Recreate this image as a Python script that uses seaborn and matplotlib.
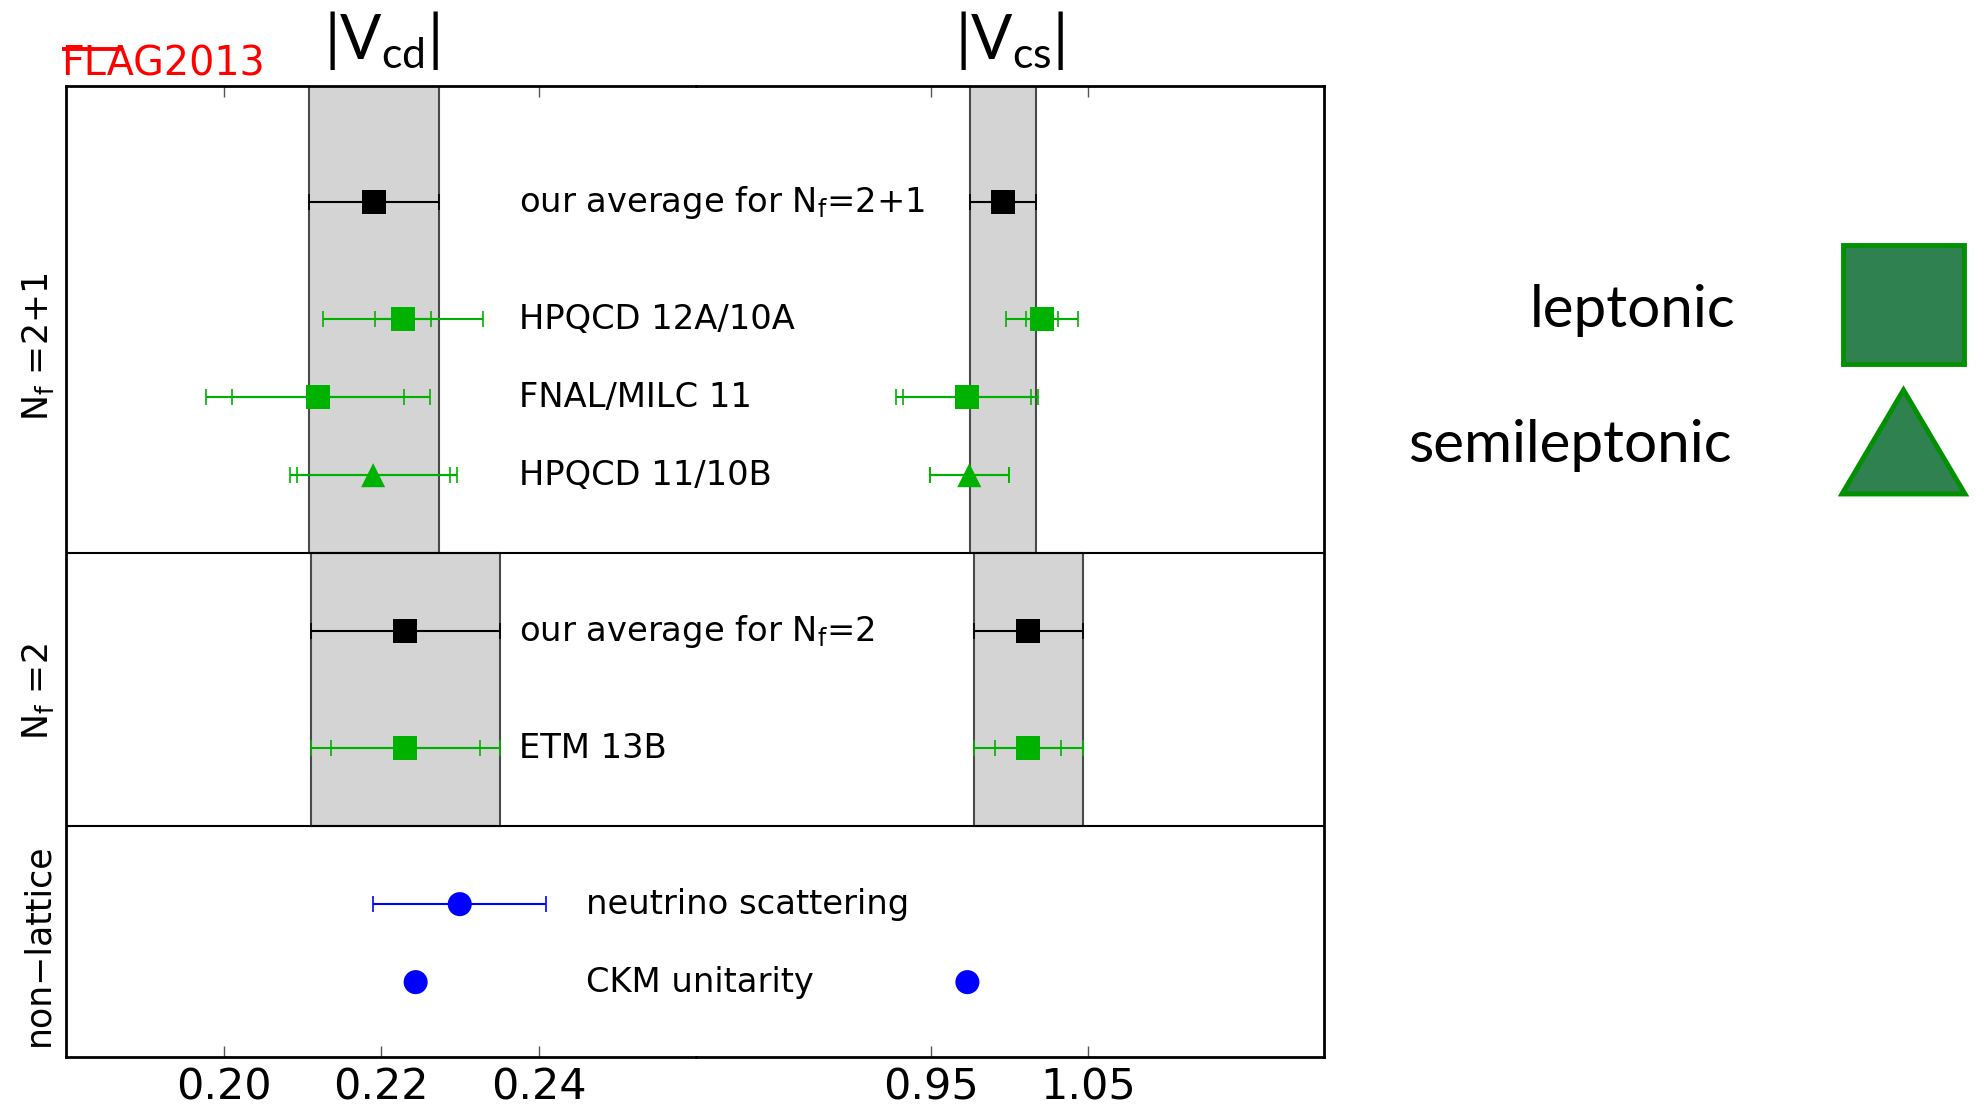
import numpy as np
import pandas as pd
import matplotlib
matplotlib.use("Agg")
import matplotlib.pyplot as plt
import seaborn as sns
from matplotlib.transforms import blended_transform_factory
from matplotlib.patches import Rectangle, Polygon
from matplotlib.lines import Line2D

# ---------------------------------------------------------------- data
labels = [
    r"our average for N$_\mathrm{f}$=2+1",
    "HPQCD 12A/10A",
    "FNAL/MILC 11",
    "HPQCD 11/10B",
    r"our average for N$_\mathrm{f}$=2",
    "ETM 13B",
    "neutrino scattering",
    "CKM unitarity",
]
kinds = ["average", "leptonic", "leptonic", "semileptonic",
         "average", "leptonic", "nonlattice", "nonlattice"]
row_y = [11.0, 9.5, 8.5, 7.5, 5.5, 4.0, 2.0, 1.0]

vcd = [0.2191, 0.2228, 0.2120, 0.2190, 0.2231, 0.2231, 0.2300, 0.2244]
vcd_stat = [np.nan, 0.0036, 0.0109, 0.0097, np.nan, 0.0095, np.nan, np.nan]
vcd_tot = [0.0083, 0.0102, 0.0142, 0.0106, 0.0120, 0.0120, 0.0110, np.nan]

vcs = [0.9957, 1.0206, 0.9729, 0.9742, 1.0118, 1.0118, np.nan, 0.9730]
vcs_stat = [np.nan, 0.0100, 0.0407, 0.0252, np.nan, 0.0210, np.nan, np.nan]
vcs_tot = [0.0209, 0.0232, 0.0454, 0.0252, 0.0349, 0.0349, np.nan, np.nan]

section_names = [r"N$_\mathrm{f}$ =2+1", r"N$_\mathrm{f}$ =2",
                 "non\u2212lattice"]
section_bounds = [(6.5, 12.49), (3.0, 6.5), (0.04, 3.0)]
section_label_y = [9.14, 4.72, 1.48]

vcd_ticks = [0.20, 0.22, 0.24]
vcs_ticks = [0.95, 1.05]
legend_names = ["leptonic", "semileptonic"]

df = pd.DataFrame({
    "label": labels, "kind": kinds, "y": row_y,
    "vcd": vcd, "vcd_stat": vcd_stat, "vcd_tot": vcd_tot,
    "vcs": vcs, "vcs_stat": vcs_stat, "vcs_tot": vcs_tot,
})

# ---------------------------------------------------------------- style
sns.set_theme(style="white")
plt.rcParams["font.family"] = ["DejaVu Sans"]
plt.rcParams["mathtext.fontset"] = "dejavusans"
plt.rcParams["mathtext.rm"] = "Lato"
plt.rcParams["mathtext.it"] = "Lato:italic"
plt.rcParams["mathtext.bf"] = "Lato:bold"
plt.rcParams["mathtext.sf"] = "Lato"

GREEN = "#00b200"
BLUE = "#0000ff"
BAND = "#d4d4d4"
BAND_EDGE = "#4a4a4a"
palette = {"average": "black", "leptonic": GREEN,
           "semileptonic": GREEN, "nonlattice": BLUE}
markers = {"average": "s", "leptonic": "s",
           "semileptonic": "^", "nonlattice": "o"}

W, H = 1984, 1111
fig = plt.figure(figsize=(W / 100, H / 100), dpi=100, facecolor="white")

ax_bot = 54 / H
ax_h = 971 / H
ax_cd = fig.add_axes([66 / W, ax_bot, 630 / W, ax_h])
ax_cs = fig.add_axes([696 / W, ax_bot, 627.5 / W, ax_h])

YLIM = (0.04, 12.49)

panels = [
    (ax_cd, "vcd", (0.18, 0.26), vcd_ticks, 0.22, r"$\mathrm{|V_{cd}|}$"),
    (ax_cs, "vcs", (0.80, 1.20), vcs_ticks, 1.00, r"$\mathrm{|V_{cs}|}$"),
]

for ax, col, xlim, ticks, title_x, title in panels:
    ax.patch.set_visible(False)
    ax.set_xlim(*xlim)
    ax.set_ylim(*YLIM)

    # averaged bands for each lattice section
    for (lo_y, hi_y), (_, r) in zip(section_bounds[:2],
                                    df[df.kind == "average"].iterrows()):
        c, e = r[col], r[col + "_tot"]
        ax.fill_betweenx([lo_y, hi_y], c - e, c + e, facecolor=BAND,
                         edgecolor=BAND_EDGE, linewidth=1.5, zorder=1)

    for _, r in df.iterrows():
        if np.isnan(r[col]):
            continue
        colr = palette[r.kind]
        for err in ("_tot", "_stat"):
            if not np.isnan(r[col + err]):
                ax.errorbar(r[col], r.y, xerr=r[col + err], fmt="none",
                            ecolor=colr, elinewidth=1.5, capsize=6,
                            capthick=1.2, zorder=3)

    sub = df.dropna(subset=[col])
    sns.scatterplot(data=sub, x=col, y="y", hue="kind", style="kind",
                    palette=palette, markers=markers, s=300, linewidth=0,
                    legend=False, ax=ax, zorder=5)

    for yy in (6.5, 3.0):
        ax.axhline(yy, color="black", linewidth=1.5, zorder=2)

    ax.set_xticks(ticks)
    ax.set_xticklabels([f"{t:.2f}" for t in ticks])
    ax.set_yticks([])
    ax.set_xlabel("")
    ax.set_ylabel("")
    ax.tick_params(axis="x", direction="in", top=True, bottom=True,
                   length=8, width=1, color="#555555", labelsize=31,
                   pad=7, labelcolor="black")
    for s in ax.spines.values():
        s.set_linewidth(2)
        s.set_color("black")

    tr = blended_transform_factory(ax.transData, ax.transAxes)
    ax.text(title_x, 1 + 46 / 971, title, transform=tr, ha="center",
            va="center", fontsize=44, math_fontfamily="custom",
            color="black")

ax_cd.spines["right"].set_visible(False)
ax_cs.spines["left"].set_visible(False)

# row labels
for _, r in df.iterrows():
    x_lab = 0.246 if r.kind == "nonlattice" else 0.2375
    ax_cd.text(x_lab, r.y, r.label, ha="left", va="center", fontsize=24.3,
               color="black", zorder=6)

# section labels on the left
trs = blended_transform_factory(ax_cd.transAxes, ax_cd.transData)
for name, yy in zip(section_names, section_label_y):
    ax_cd.text(-28 / 630, yy, name, transform=trs,
               rotation=90, ha="center", va="center", fontsize=25,
               color="black")

# red FLAG tag with its bar over the first letters
fig.text(61 / W, 1 - 76 / H, "FLAG2013",
         color="red", fontsize=28.5, ha="left", va="baseline")
fig.add_artist(Line2D([62 / W, 123 / W], [1 - 48.5 / H, 1 - 48.5 / H],
                      transform=fig.transFigure, color="red",
                      linewidth=2.8, solid_capstyle="butt"))

# legend for the lattice methods
LEG_FILL = "#2f8150"
LEG_EDGE = "#009000"
fig.text(1736 / W, 1 - 327 / H, legend_names[0], fontfamily="Lato",
         fontsize=42, ha="right", va="baseline", color="black")
fig.text(1732 / W, 1 - 462 / H, legend_names[1], fontfamily="Lato",
         fontsize=42, ha="right", va="baseline", color="black")
fig.add_artist(Rectangle((1843 / W, 1 - 364 / H), 121 / W, 119 / H,
                         transform=fig.transFigure, facecolor=LEG_FILL,
                         edgecolor=LEG_EDGE, linewidth=3.5))
fig.add_artist(Polygon([(1842 / W, 1 - 494 / H), (1965 / W, 1 - 494 / H),
                        (1903.5 / W, 1 - 390 / H)], closed=True,
                       transform=fig.transFigure, facecolor=LEG_FILL,
                       edgecolor=LEG_EDGE, linewidth=3.5))

fig.savefig("out.png", dpi=100, facecolor="white")
